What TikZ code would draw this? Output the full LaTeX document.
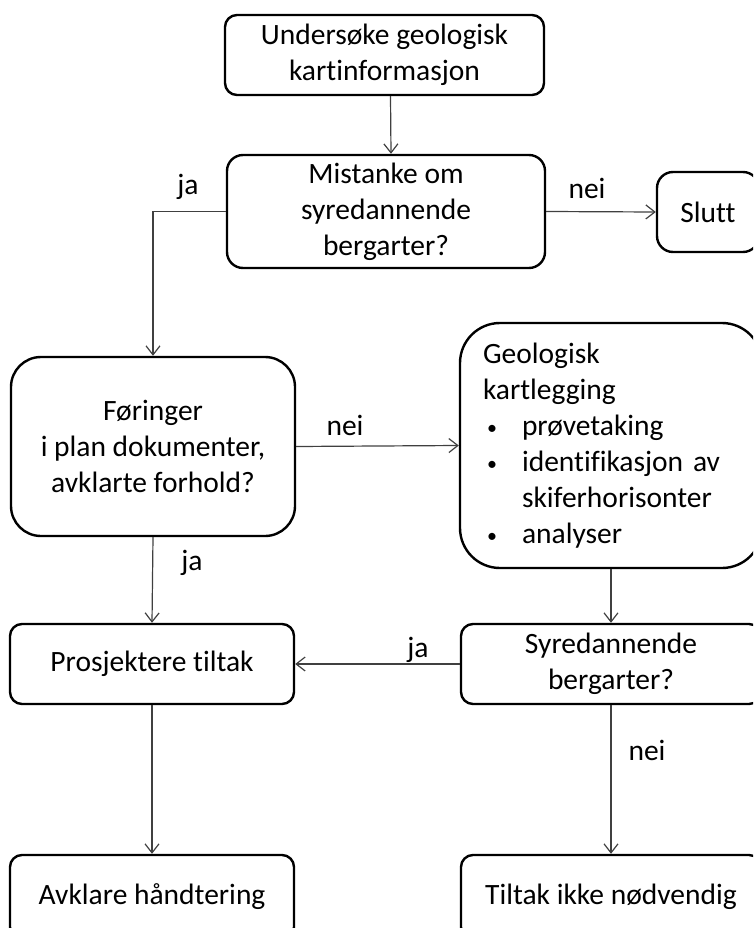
\documentclass[tikz,border=0pt]{standalone}
\usepackage{fontspec}
\setmainfont{Carlito}[Ligatures={NoCommon,NoContextual}]
\usetikzlibrary{arrows.meta}
\newcommand{\punkt}{\makebox[39pt][l]{\hspace{4pt}\raisebox{1pt}{\fontsize{20}{20}\selectfont\textbullet}}}
\begin{document}
\begin{tikzpicture}[x=1pt,y=-1pt,
    boks/.style={draw,line width=2.4pt,align=center,inner sep=0pt,font=\fontsize{29.5}{36}\selectfont},
    pil/.style={draw=black!75,line width=1.2pt,-{Straight Barb[length=9pt,width=14pt,line width=1.2pt]}},
    merk/.style={font=\fontsize{29.5}{36}\selectfont}]
    \useasboundingbox (0,0) rectangle (753,928);
    \clip (0,0) rectangle (753,928);

    % Bokser
    \node[boks,rounded corners=12pt,minimum width=319pt,minimum height=80pt] (und) at (384.5,55) {Undersøke geologisk\\kartinformasjon};
    \node[boks,rounded corners=16pt,minimum width=318pt,minimum height=113pt] (mis) at (386,211.5) {Mistanke om\\syredannende\\bergarter?};
    \node[boks,rounded corners=16pt,minimum width=102pt,minimum height=80pt] (slutt) at (708,212) {Slutt};
    \node[boks,rounded corners=30pt,minimum width=284pt,minimum height=179pt] (for) at (153,446.5) {Føringer\\i plan dokumenter,\\avklarte forhold?};
    \node[boks,rounded corners=40pt,minimum width=302pt,minimum height=245pt,align=left,text width=256pt,inner xsep=23pt] (geo) at (611,445.5)
        {Geologisk\\
         kartlegging\\
         \punkt prøvetaking\\
         \punkt identifikasjon av\\
         \hspace*{39pt}skiferhorisonter\\
         \punkt analyser};
    \node[boks,rounded corners=12pt,minimum width=284pt,minimum height=80pt] (pro) at (152,664) {Prosjektere tiltak};
    \node[boks,rounded corners=12pt,minimum width=300pt,minimum height=80pt] (syr) at (611,664) {Syredannende\\bergarter?};
    \node[boks,rounded corners=12pt,minimum width=284pt,minimum height=84pt] (avk) at (152,897) {Avklare håndtering};
    \node[boks,rounded corners=12pt,minimum width=300pt,minimum height=84pt] (tik) at (611,897) {Tiltak ikke nødvendig};

    % Piler
    \draw[pil] ([xshift=6pt]und.south) -- ([xshift=5pt]mis.north);
    \draw[pil] (mis.west) -| (for.north);
    \draw[pil] (mis.east) -- (slutt.west);
    \draw[pil] (for.east) -- (geo.west);
    \draw[pil] (for.south) -- (pro.north);
    \draw[pil] (geo.south) -- (syr.north);
    \draw[pil] (syr.west) -- (pro.east);
    \draw[pil] (pro.south) -- (avk.north);
    \draw[pil] (syr.south) -- (tik.north);

    % Etiketter
    \node[merk] (ja1) at (188,187) {ja};
    \node[merk] (nei1) at (587,188) {nei};
    \node[merk] (nei2) at (345,425) {nei};
    \node[merk] (ja2) at (192,563) {ja};
    \node[merk] (ja3) at (418,650) {ja};
    \node[merk] (nei3) at (647,750) {nei};
\end{tikzpicture}
\end{document}
